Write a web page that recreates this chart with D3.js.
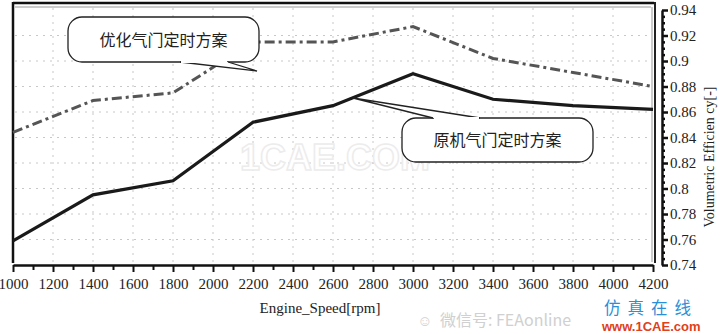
<!DOCTYPE html>
<html>
<head>
<meta charset="utf-8">
<script src="https://cdn.jsdelivr.net/npm/d3@7"></script>
<style>
  body { margin: 0; background: #fff; }
  svg { display: block; }
</style>
</head>
<body>
<div id="chart"></div>
<script>
// data
var speeds = [1000, 1400, 1800, 2200, 2600, 3000, 3400, 3800, 4200];
var original = [0.759, 0.795, 0.806, 0.852, 0.865, 0.890, 0.870, 0.865, 0.862];
var optimized = [0.844, 0.869, 0.875, 0.915, 0.915, 0.927, 0.902, 0.891, 0.880];
var xTicks = [1000, 1200, 1400, 1600, 1800, 2000, 2200, 2400, 2600, 2800, 3000, 3200, 3400, 3600, 3800, 4000, 4200];
var yTicks = [0.74, 0.76, 0.78, 0.8, 0.82, 0.84, 0.86, 0.88, 0.9, 0.92, 0.94];
var labelOptimized = "优化气门定时方案";
var labelOriginal = "原机气门定时方案";

var visualize = function() {
  var W = 720, H = 334;
  var svg = d3.select("#chart").append("svg")
    .attr("width", W).attr("height", H);

  var x = d3.scaleLinear().domain([1000, 4200]).range([13, 653]);
  var y = d3.scaleLinear().domain([0.74, 0.94]).range([265, 10]);
  var serif = "'Liberation Serif', 'DejaVu Serif', serif";

  // dotted grid
  svg.append("g").selectAll("line.v")
    .data(xTicks.slice(1, -1)).enter().append("line")
    .attr("x1", d => x(d)).attr("x2", d => x(d))
    .attr("y1", 8).attr("y2", 263)
    .attr("stroke", "#c8c8c8").attr("stroke-width", 1)
    .attr("stroke-dasharray", "2,5");
  svg.append("g").selectAll("line.h")
    .data(yTicks.slice(1, -1)).enter().append("line")
    .attr("x1", 15).attr("x2", 650)
    .attr("y1", d => y(d)).attr("y2", d => y(d))
    .attr("stroke", "#c8c8c8").attr("stroke-width", 1)
    .attr("stroke-dasharray", "2,5");

  // faint watermark in the middle
  svg.append("text")
    .attr("x", 335).attr("y", 170)
    .attr("text-anchor", "middle")
    .attr("font-family", "Arial, 'Liberation Sans', sans-serif")
    .attr("font-weight", "bold").attr("font-size", 36)
    .attr("fill", "#fff").attr("stroke", "#ececec").attr("stroke-width", 1.5)
    .text("1CAE.COM");

  // frame
  svg.append("line").attr("x1", 13).attr("x2", 654).attr("y1", 3).attr("y2", 3)
    .attr("stroke", "#111").attr("stroke-width", 2.5);
  svg.append("line").attr("x1", 15).attr("x2", 651).attr("y1", 7).attr("y2", 7)
    .attr("stroke", "#999").attr("stroke-width", 1);
  svg.append("line").attr("x1", 13).attr("x2", 13).attr("y1", 2).attr("y2", 263)
    .attr("stroke", "#111").attr("stroke-width", 2.5);
  svg.append("line").attr("x1", 652).attr("x2", 652).attr("y1", 7).attr("y2", 262)
    .attr("stroke", "#999").attr("stroke-width", 1);
  svg.append("line").attr("x1", 655).attr("x2", 655).attr("y1", 2).attr("y2", 263)
    .attr("stroke", "#222").attr("stroke-width", 2);

  // bottom axis
  var xMinor = d3.range(1100, 4200, 200);
  svg.append("g").attr("transform", "translate(0,266)")
    .call(d3.axisBottom(x).tickValues(xMinor).tickSize(4).tickFormat(""))
    .call(g => g.select(".domain").remove())
    .selectAll("line").attr("stroke", "#111").attr("stroke-width", 2);
  var xAxis = svg.append("g").attr("transform", "translate(0,265)")
    .call(d3.axisBottom(x).tickValues(xTicks).tickSize(7).tickSizeOuter(0).tickPadding(6).tickFormat(d3.format("d")));
  xAxis.select(".domain").attr("stroke", "#111").attr("stroke-width", 2.5);
  xAxis.selectAll("line").attr("stroke", "#111").attr("stroke-width", 2);
  xAxis.selectAll("text").attr("font-family", serif).attr("font-size", 15).attr("fill", "#222");

  svg.append("text").attr("x", 320).attr("y", 313)
    .attr("text-anchor", "middle")
    .attr("font-family", serif).attr("font-size", 15).attr("fill", "#222")
    .text("Engine_Speed[rpm]");

  // right axis
  var yMinor = d3.range(0.745, 0.94, 0.005).filter(v => Math.abs(v * 50 - Math.round(v * 50)) > 0.01);
  svg.append("g").attr("transform", "translate(662,0)")
    .call(d3.axisLeft(y).tickValues(yMinor).tickSize(-3).tickFormat(""))
    .call(g => g.select(".domain").remove())
    .selectAll("line").attr("stroke", "#111").attr("stroke-width", 2.5);
  var yAxis = svg.append("g").attr("transform", "translate(662,0)")
    .call(d3.axisRight(y).tickValues(yTicks).tickSize(6).tickSizeOuter(0).tickPadding(2).tickFormat(d => String(+d.toFixed(2))));
  yAxis.select(".domain").attr("stroke", "#111").attr("stroke-width", 2.5);
  yAxis.selectAll("line").attr("stroke", "#111").attr("stroke-width", 2.5);
  yAxis.selectAll("text").attr("font-family", serif).attr("font-size", 15).attr("fill", "#222");

  svg.append("text")
    .attr("transform", "translate(714,157) rotate(-90)")
    .attr("text-anchor", "middle")
    .attr("font-family", serif).attr("font-size", 14).attr("fill", "#222")
    .text("Volumetric Efficien cy[-]");

  // series
  var line = d3.line().x(d => x(d[0])).y(d => y(d[1]));
  svg.append("path")
    .datum(speeds.map((s, i) => [s, optimized[i]]))
    .attr("d", line)
    .attr("fill", "none").attr("stroke", "#555").attr("stroke-width", 3)
    .attr("stroke-dasharray", "10,4,3,4");
  svg.append("path")
    .datum(speeds.map((s, i) => [s, original[i]]))
    .attr("d", line)
    .attr("fill", "none").attr("stroke", "#1a1a1a").attr("stroke-width", 3.2);

  // callout bubbles
  function callout(box, tail, label) {
    var r = 14;
    var bx = box[0], by = box[1], bw = box[2], bh = box[3];
    var g = svg.append("g");
    g.append("rect").attr("x", bx).attr("y", by).attr("width", bw).attr("height", bh)
      .attr("rx", r).attr("ry", r)
      .attr("fill", "#fff").attr("stroke", "#222").attr("stroke-width", 1.3);
    g.append("path")
      .attr("d", "M" + tail[0] + "L" + tail[1] + "L" + tail[2])
      .attr("fill", "#fff").attr("stroke", "#222").attr("stroke-width", 1.3);
    // cover the box edge between tail roots
    g.append("line")
      .attr("x1", tail[0][0] + 1).attr("x2", tail[2][0] - 1)
      .attr("y1", tail[0][1]).attr("y2", tail[2][1])
      .attr("stroke", "#fff").attr("stroke-width", 2);
    g.append("text")
      .attr("x", bx + bw / 2).attr("y", by + bh / 2 + 6)
      .attr("text-anchor", "middle")
      .attr("font-family", "'Noto Sans CJK SC', sans-serif")
      .attr("font-size", 16).attr("fill", "#222")
      .text(label);
  }
  callout([68, 17, 191, 45], [[180, 62], [257, 71], [228, 62]], labelOptimized);
  callout([402, 118, 191, 44], [[433, 118], [353, 98], [480, 118]], labelOriginal);

  // page watermarks at the bottom
  svg.append("text").attr("x", 440).attr("y", 326)
    .attr("font-family", "'Noto Sans CJK SC', sans-serif")
    .attr("font-size", 16).attr("fill", "#d0d0d0")
    .text("微信号: FEAonline");
  svg.append("text").attr("x", 425).attr("y", 326)
    .attr("text-anchor", "middle")
    .attr("font-family", "'Noto Sans CJK SC', sans-serif")
    .attr("font-size", 15).attr("fill", "#d0d0d0")
    .text("☺");
  svg.append("text").attr("x", 604).attr("y", 314)
    .attr("font-family", "'Noto Sans CJK SC', sans-serif")
    .attr("font-size", 16.5).attr("fill", "#2a8fd8").attr("letter-spacing", 7)
    .text("仿真在线");
  svg.append("text").attr("x", 602).attr("y", 330.5)
    .attr("font-family", "Arial, 'Liberation Sans', sans-serif")
    .attr("font-weight", "bold")
    .attr("font-size", 13).attr("fill", "#e0401a")
    .text("www.1CAE.com");
};

visualize();
</script>
</body>
</html>
